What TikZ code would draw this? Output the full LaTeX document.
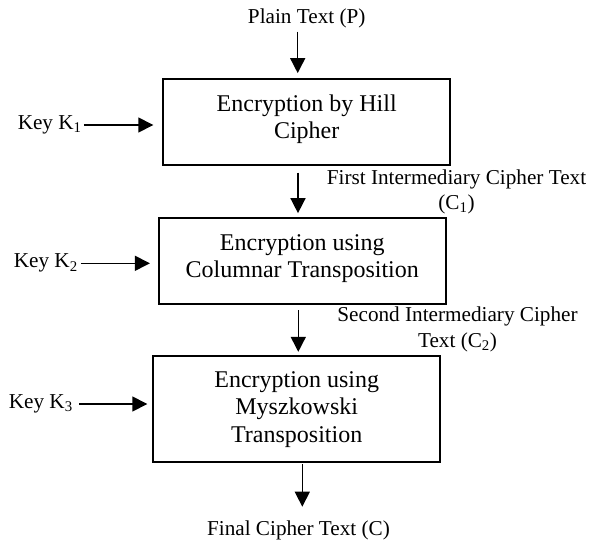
\documentclass[tikz,border=0pt]{standalone}
\usepackage{fontspec}
\setmainfont{Liberation Serif}
\usetikzlibrary{arrows.meta}
\begin{document}
\begin{tikzpicture}[x=1pt,y=-1pt,
  stepbox/.style={draw,line width=1.8pt,align=center,inner sep=0pt,
    minimum width=287pt,font=\fontsize{24}{27.5}\selectfont},
  lbl/.style={align=center,inner sep=0pt,font=\fontsize{21.2}{25.5}\selectfont},
  arr/.style={line width=1.5pt,-{Triangle[length=15pt,width=15pt]}}]
\useasboundingbox (0,0) rectangle (590,542);
\node[lbl] (plain) at (306.7,18.5) {Plain Text (P)};
\node[stepbox,minimum height=86pt] (b1) at (306.7,122) {};
\node[stepbox,minimum height=85.7pt] (b2) at (302.3,261.2) {};
\node[stepbox,minimum height=106.3pt] (b3) at (296.7,409.2) {};
\node[align=center,inner sep=0pt,font=\fontsize{24}{27.5}\selectfont] (t1) at (306.7,119) {Encryption by Hill\\Cipher};
\node[align=center,inner sep=0pt,font=\fontsize{24}{27.5}\selectfont] (t2) at (302.3,258.5) {Encryption using\\Columnar Transposition};
\node[align=center,inner sep=0pt,font=\fontsize{24}{27.5}\selectfont] (t3) at (296.7,409.2) {Encryption using\\Myszkowski\\Transposition};
\node[lbl] (k1) at (49.7,125) {Key K\textsubscript{1}};
\node[lbl] (k2) at (45.8,263.3) {Key K\textsubscript{2}};
\node[lbl] (k3) at (40.8,404) {Key K\textsubscript{3}};
\node[lbl] (c1) at (456.5,191.7) {First Intermediary Cipher Text\\(C\textsubscript{1})};
\node[lbl] (c2) at (457.5,329.5) {Second Intermediary Cipher\\Text (C\textsubscript{2})};
\node[lbl] (fin) at (298.5,530) {Final Cipher Text (C)};
\coordinate (a1) at (297.7,31.7);
\coordinate (a2) at (298,172.7);
\coordinate (a3) at (298.3,310);
\coordinate (a4) at (302.3,464.3);
\coordinate (a4e) at (302.3,506.7);
\draw[arr,shorten >=5pt] (a1) -- (a1 |- b1.north);
\draw[arr,shorten >=4.3pt] (a2) -- (a2 |- b2.north);
\draw[arr,shorten >=3.3pt] (a3) -- (a3 |- b3.north);
\draw[arr] (a4) -- (a4e);
\draw[arr,shorten <=2pt,shorten >=9pt] (k1.east) -- (k1.east -| b1.west);
\draw[arr,shorten <=3pt,shorten >=8pt] (k2.east) -- (k2.east -| b2.west);
\draw[arr,shorten <=6.5pt,shorten >=5pt] (k3.east) -- (k3.east -| b3.west);
\end{tikzpicture}
\end{document}
